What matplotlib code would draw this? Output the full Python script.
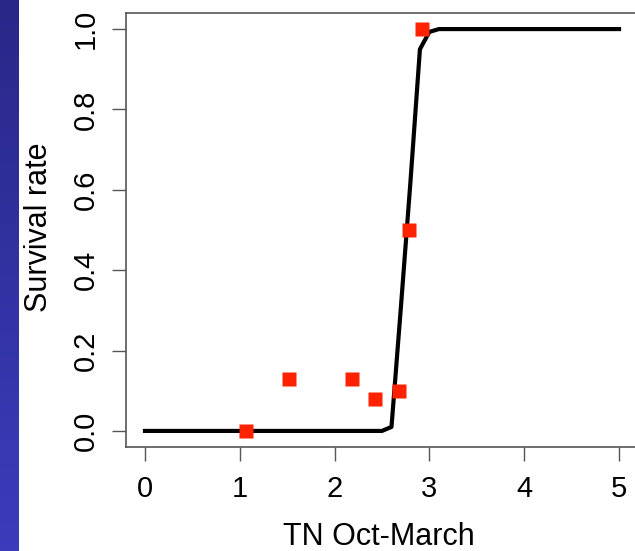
import numpy as np
import matplotlib.pyplot as plt

# observed survival points
obs_x = [1.07, 1.52, 2.18, 2.43, 2.68, 2.78, 2.92]
obs_y = [0.0, 0.13, 0.13, 0.08, 0.10, 0.50, 1.00]

# fitted curve
fit_x = [0.0, 2.5, 2.6, 2.7, 2.8, 2.9, 3.0, 3.1, 5.0]
fit_y = [0.0, 0.0, 0.01, 0.31, 0.62, 0.95, 0.993, 1.0, 1.0]

xticks = [0, 1, 2, 3, 4, 5]
yticks = [0.0, 0.2, 0.4, 0.6, 0.8, 1.0]

plt.rcParams['font.family'] = ['Liberation Sans', 'DejaVu Sans']

W, H = 635, 551
fig = plt.figure(figsize=(W / 100, H / 100), dpi=100)

# blue strip on the left
strip = fig.add_axes([0, 0, 19 / W, 1])
grad = np.linspace(0, 1, 256).reshape(-1, 1)
top = np.array([0x28, 0x28, 0x88]) / 255
bot = np.array([0x3c, 0x3c, 0xbc]) / 255
img = top + grad[:, :, None] * (bot - top)
strip.imshow(img, aspect='auto', extent=[0, 1, 0, 1], origin='upper')
strip.axis('off')

ax = fig.add_axes([126 / W, 1 - 447 / H, 512 / W, 434 / H])
ax.plot(fit_x, fit_y, color='black', lw=3, solid_joinstyle='round', zorder=2)
ax.plot(obs_x, obs_y, 's', color='#ff2200', ms=10, mec='none', zorder=3)

ax.set_xlim(-0.2, 5.2)
ax.set_ylim(-0.04, 1.04)
ax.set_xticks(xticks)
ax.set_yticks(yticks)
ax.set_xticklabels([str(t) for t in xticks])
ax.set_yticklabels(['%.1f' % t for t in yticks], rotation=90, va='center')

for s in ax.spines.values():
    s.set_color('#555555')
    s.set_linewidth(1.2)
ax.tick_params(axis='both', length=10, width=1, color='#555555', labelsize=21)
ax.tick_params(axis='x', pad=10)
ax.tick_params(axis='y', pad=9)

fig.text(379 / W, 1 - 537 / H, 'TN Oct-March', fontsize=22, ha='center', va='center')
fig.text(39 / W, 1 - 227 / H, 'Survival rate', fontsize=22, ha='center', va='center',
         rotation=90)

fig.savefig('out.png', dpi=100)
